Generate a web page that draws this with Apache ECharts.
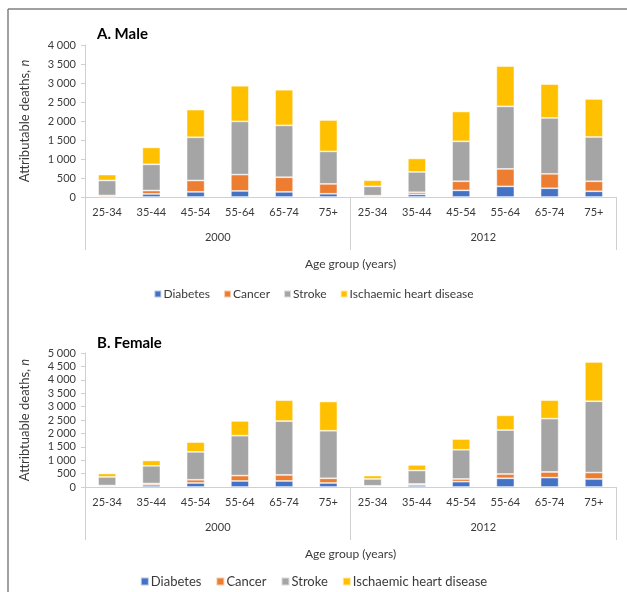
<!DOCTYPE html>
<html>
<head>
<meta charset="utf-8">
<script src="https://cdn.jsdelivr.net/npm/echarts@6/dist/echarts.min.js"></script>
<style>
  html, body { margin: 0; padding: 0; background: #fff; }
  #chart { width: 627px; height: 592px; }
</style>
</head>
<body>
<div id="chart"></div>
<script>
// categories
const ageGroups = ['25-34', '35-44', '45-54', '55-64', '65-74', '75+']
const years = ['2000', '2012']
const categories = years.flatMap(y => ageGroups.map(a => a + '|' + y))
const seriesNames = ['Diabetes', 'Cancer', 'Stroke', 'Ischaemic heart disease']
const colors = ['#4472C4', '#ED7D31', '#A5A5A5', '#FFC000']

// A. Male (2000 then 2012)
const maleDiabetes = [10, 80, 135, 160, 135, 85, 10, 70, 175, 280, 230, 150]
const maleCancer = [30, 90, 300, 430, 385, 260, 25, 55, 240, 460, 380, 265]
const maleStroke = [395, 690, 1137, 1400, 1365, 855, 245, 535, 1050, 1645, 1470, 1165]
const maleIHD = [155, 445, 727, 937, 937, 825, 160, 355, 785, 1060, 890, 1000]

// B. Female
const femaleDiabetes = [35, 80, 150, 225, 225, 150, 30, 75, 200, 325, 350, 300]
const femaleCancer = [20, 50, 120, 200, 225, 175, 15, 40, 100, 160, 210, 240]
const femaleStroke = [320, 660, 1040, 1490, 2010, 1775, 255, 500, 1090, 1640, 1990, 2660]
const femaleIHD = [130, 200, 365, 550, 780, 1090, 125, 210, 400, 550, 690, 1465]

const maleData = [maleDiabetes, maleCancer, maleStroke, maleIHD]
const femaleData = [femaleDiabetes, femaleCancer, femaleStroke, femaleIHD]

const FONT = 'Lato'
const TXT = '#3a3a3a'

// 4 000 style labels
const fmt = v => {
  if (v < 1000) return String(v)
  const r = v % 1000
  return Math.floor(v / 1000) + ' ' + String(r).padStart(3, '0')
}

const grids = [
  { left: 85, right: 11, top: 45, height: 152 },
  { left: 85, right: 11, top: 353, height: 134 }
]

const makeXAxes = (gridIndex) => [
  {
    type: 'category',
    gridIndex,
    data: categories,
    axisLine: { show: true, onZero: false, lineStyle: { color: '#d0d0d0', width: 1 } },
    axisTick: { show: false },
    axisLabel: {
      color: TXT, fontFamily: FONT, fontSize: 11, margin: 10, interval: 0,
      formatter: v => v.split('|')[0]
    },
    name: 'Age group (years)',
    nameLocation: 'middle',
    nameGap: 61,
    nameTextStyle: { color: TXT, fontFamily: FONT, fontSize: 12 }
  },
  {
    type: 'category',
    gridIndex,
    position: 'bottom',
    data: years,
    axisLine: { show: false, onZero: false },
    axisTick: { show: true, length: 53, lineStyle: { color: '#d0d0d0', width: 1 } },
    axisLabel: { color: TXT, fontFamily: FONT, fontSize: 11, margin: 35 }
  }
]

const makeYAxis = (gridIndex, max, name) => ({
  type: 'value',
  gridIndex,
  min: 0,
  max,
  interval: 500,
  axisLine: { show: true, lineStyle: { color: '#d0d0d0', width: 1 } },
  axisTick: { show: true, length: 4, lineStyle: { color: '#d0d0d0' } },
  splitLine: { show: false },
  axisLabel: { color: TXT, fontFamily: FONT, fontSize: 11, margin: 9, formatter: fmt },
  name: '{a|' + name + '}{i|n}',
  nameLocation: 'middle',
  nameGap: 54,
  nameRotate: 90,
  nameTextStyle: {
    rich: {
      a: { color: TXT, fontFamily: FONT, fontSize: 13 },
      i: { color: TXT, fontFamily: FONT, fontSize: 13, fontStyle: 'italic' }
    }
  }
})

const makeSeries = (data, xIdx, yIdx, stack) => data.map((vals, i) => ({
  name: seriesNames[i],
  type: 'bar',
  stack,
  xAxisIndex: xIdx,
  yAxisIndex: yIdx,
  barWidth: 18,
  itemStyle: { color: colors[i], borderColor: 'rgba(255,255,255,0.6)', borderWidth: 0.8 },
  data: vals
}))

const option = {
  animation: false,
  title: [
    { text: 'A. Male', left: 92, top: 22, textStyle: { fontFamily: FONT, fontSize: 15, fontWeight: 'bold', color: '#000' } },
    { text: 'B. Female', left: 92, top: 331, textStyle: { fontFamily: FONT, fontSize: 15, fontWeight: 'bold', color: '#000' } }
  ],
  legend: [
    {
      top: 283, left: 'center',
      itemWidth: 7, itemHeight: 7, itemGap: 13,
      icon: 'rect',
      textStyle: { color: TXT, fontFamily: FONT, fontSize: 12, padding: [0, 0, 0, -3] },
      data: seriesNames
    },
    {
      top: 570, left: 'center',
      itemWidth: 8, itemHeight: 8, itemGap: 14,
      icon: 'rect',
      textStyle: { color: TXT, fontFamily: FONT, fontSize: 13, padding: [0, 0, 0, -3] },
      data: seriesNames
    }
  ],
  grid: grids,
  xAxis: [...makeXAxes(0), ...makeXAxes(1)],
  yAxis: [
    makeYAxis(0, 4000, 'Attributable deaths, '),
    makeYAxis(1, 5000, 'Attribtuable deaths, ')
  ],
  series: [
    ...makeSeries(maleData, 0, 0, 'male'),
    ...makeSeries(femaleData, 2, 1, 'female')
  ],
  graphic: [
    { type: 'line', shape: { x1: 8, y1: 9, x2: 627, y2: 9 }, style: { stroke: '#808080', lineWidth: 1.5 } },
    { type: 'line', shape: { x1: 8, y1: 9, x2: 8, y2: 592 }, style: { stroke: '#808080', lineWidth: 1.5 } }
  ]
}

const chart = echarts.init(document.getElementById('chart'))
chart.setOption(option)
</script>
</body>
</html>
